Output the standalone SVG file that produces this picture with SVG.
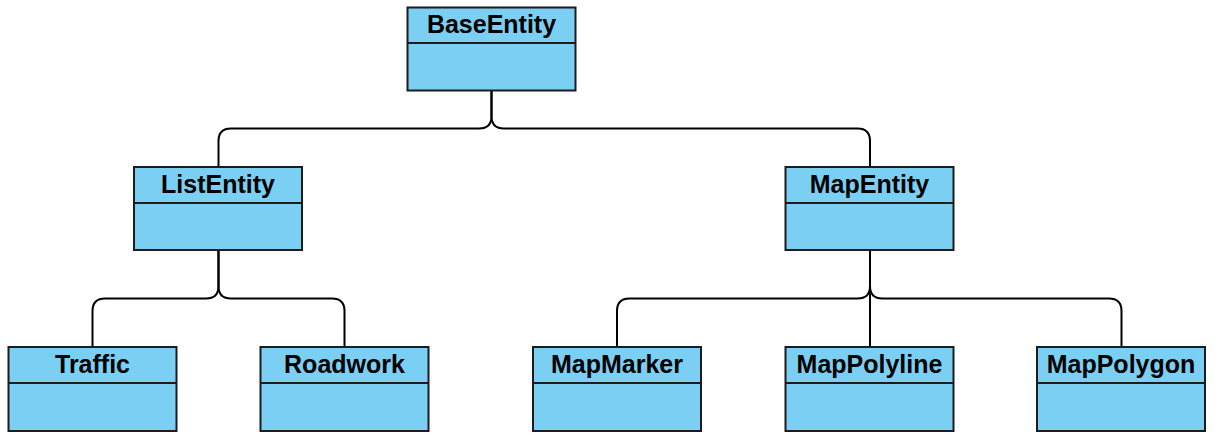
<svg xmlns="http://www.w3.org/2000/svg" width="1215" height="440" viewBox="0 0 1215 440">
<style>
.box{fill:#7acff3;stroke:#1c1c1c;stroke-width:2}
.sep{stroke:#1c1c1c;stroke-width:2}
.lbl{font-family:"Liberation Sans",Arial,sans-serif;font-weight:bold;font-size:25px;fill:#000;text-anchor:middle}
.edge{fill:none;stroke:#000;stroke-width:2}
</style>
<rect width="1215" height="440" fill="#fff"/>
<g id="connectors">
<path class="edge" d="M491.5 91 V116 Q491.5 128.5 479 128.5 H231 Q218.5 128.5 218.5 141 V167"/>
<path class="edge" d="M491.5 91 V116 Q491.5 128.5 504 128.5 H857.5 Q870 128.5 870 141 V167"/>
<path class="edge" d="M218.5 251 V286 Q218.5 298.5 206 298.5 H105 Q92.5 298.5 92.5 311 V347"/>
<path class="edge" d="M218.5 251 V286 Q218.5 298.5 231 298.5 H332 Q344.5 298.5 344.5 311 V347"/>
<path class="edge" d="M870 251 V286 Q870 298.5 857.5 298.5 H629.5 Q617 298.5 617 311 V347"/>
<path class="edge" d="M870 251 V347"/>
<path class="edge" d="M870 251 V286 Q870 298.5 882.5 298.5 H1109 Q1121.5 298.5 1121.5 311 V347"/>
</g>
<g id="BaseEntity">
<rect class="box" x="407.5" y="7.5" width="168" height="83"/>
<line class="sep" x1="407.5" y1="43" x2="575.5" y2="43"/>
<text class="lbl" x="491.5" y="33">BaseEntity</text>
</g>
<g id="ListEntity">
<rect class="box" x="134" y="167" width="168" height="83"/>
<line class="sep" x1="134" y1="203" x2="302" y2="203"/>
<text class="lbl" x="218" y="193">ListEntity</text>
</g>
<g id="MapEntity">
<rect class="box" x="785.5" y="167" width="168" height="83"/>
<line class="sep" x1="785.5" y1="203" x2="953.5" y2="203"/>
<text class="lbl" x="869.5" y="193">MapEntity</text>
</g>
<g id="Traffic">
<rect class="box" x="8.5" y="347" width="168" height="84"/>
<line class="sep" x1="8.5" y1="383" x2="176.5" y2="383"/>
<text class="lbl" x="92.5" y="373">Traffic</text>
</g>
<g id="Roadwork">
<rect class="box" x="260.5" y="347" width="168" height="84"/>
<line class="sep" x1="260.5" y1="383" x2="428.5" y2="383"/>
<text class="lbl" x="344.5" y="373">Roadwork</text>
</g>
<g id="MapMarker">
<rect class="box" x="533" y="347" width="168" height="84"/>
<line class="sep" x1="533" y1="383" x2="701" y2="383"/>
<text class="lbl" x="617" y="373">MapMarker</text>
</g>
<g id="MapPolyline">
<rect class="box" x="785.5" y="347" width="168" height="84"/>
<line class="sep" x1="785.5" y1="383" x2="953.5" y2="383"/>
<text class="lbl" x="869.5" y="373">MapPolyline</text>
</g>
<g id="MapPolygon">
<rect class="box" x="1037" y="347" width="168" height="84"/>
<line class="sep" x1="1037" y1="383" x2="1205" y2="383"/>
<text class="lbl" x="1121" y="373">MapPolygon</text>
</g>
</svg>
